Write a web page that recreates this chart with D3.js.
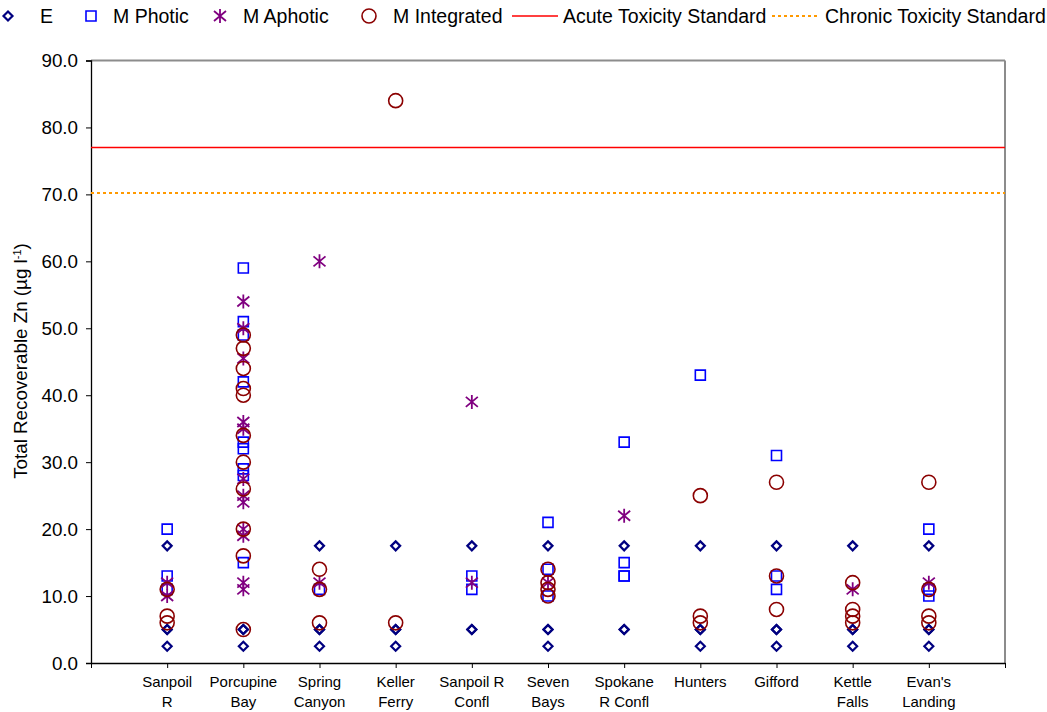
<!DOCTYPE html>
<html>
<head>
<meta charset="utf-8">
<script src="https://cdn.jsdelivr.net/npm/d3@7"></script>
<style>
  html, body { margin: 0; padding: 0; background: #fff; }
  svg { display: block; font-family: "Liberation Sans", Arial, sans-serif; }
</style>
</head>
<body>
<svg id="chart" width="1047" height="712"></svg>
<script>
// Sampling sites along the reservoir, two-line labels
const sites = [
  ["Sanpoil", "R"], ["Porcupine", "Bay"], ["Spring", "Canyon"], ["Keller", "Ferry"],
  ["Sanpoil R", "Confl"], ["Seven", "Bays"], ["Spokane", "R Confl"], ["Hunters", ""],
  ["Gifford", ""], ["Kettle", "Falls"], ["Evan's", "Landing"]
];

// Total recoverable zinc (µg/l) per site, one inner list per site
const eValues = [
  [17.5, 5, 5, 2.5], [5, 5, 2.5], [17.5, 5, 5, 2.5], [17.5, 5, 5, 2.5],
  [17.5, 5, 5], [17.5, 5, 5, 2.5], [17.5, 5, 5], [17.5, 5, 5, 2.5],
  [17.5, 5, 5, 2.5], [17.5, 5, 5, 2.5], [17.5, 5, 5, 2.5]
];
const photicValues = [
  [20, 13, 11], [59, 51, 49, 42, 33, 32, 29, 28, 15], [11], [],
  [13, 11], [21, 14, 10], [33, 15, 13, 13], [43],
  [31, 13, 11], [], [20, 11, 10]
];
const aphoticValues = [
  [12, 10], [54, 50, 45.5, 36, 35, 27.5, 25, 24, 20, 19, 12, 11], [60, 12], [],
  [39, 12], [12], [22], [],
  [], [11], [12]
];
const integratedValues = [
  [11, 7, 6], [49, 47, 44, 41, 40, 34, 30, 26, 20, 16, 5], [14, 11, 6], [84, 6],
  [], [14, 12, 11, 10], [], [25, 7, 6],
  [27, 13, 8], [12, 8, 7, 6], [27, 11, 7, 6]
];

// Water quality standards (µg/l)
const acuteStandard = 77.0;
const chronicStandard = 70.2;

const yTicks = [0, 10, 20, 30, 40, 50, 60, 70, 80, 90];

const svg = d3.select("#chart");
const plotLeft = 91, plotRight = 1005, plotTop = 60.5, plotBottom = 663;

const x = d3.scaleLinear().domain([0, sites.length + 1]).range([plotLeft, plotRight]);
const y = d3.scaleLinear().domain([0, 90]).range([plotBottom, plotTop]);

// Frame: grey top and right edges
svg.append("line").attr("x1", plotLeft).attr("x2", plotRight).attr("y1", plotTop).attr("y2", plotTop)
  .attr("stroke", "#8c8c8c").attr("stroke-width", 2);
svg.append("line").attr("x1", plotRight).attr("x2", plotRight).attr("y1", plotTop).attr("y2", plotBottom)
  .attr("stroke", "#8c8c8c").attr("stroke-width", 2);

// Y axis
const yAxis = svg.append("g").attr("transform", `translate(${plotLeft},0)`)
  .call(d3.axisLeft(y).tickValues(yTicks).tickFormat(d3.format(".1f")).tickSize(5).tickPadding(8));
yAxis.select(".domain").attr("stroke", "#000").attr("stroke-width", 1.3);
yAxis.selectAll(".tick line").attr("stroke", "#000");
yAxis.selectAll(".tick text").attr("font-size", 18.8).attr("fill", "#000")
  .attr("font-family", "Liberation Sans, Arial, sans-serif");

// X axis: ticks at every site position plus both ends
const xAxis = svg.append("g").attr("transform", `translate(0,${plotBottom})`)
  .call(d3.axisBottom(x).tickValues(d3.range(0, sites.length + 2)).tickFormat("").tickSize(5).tickSizeOuter(0));
xAxis.select(".domain").attr("stroke", "#000").attr("stroke-width", 1.3);
xAxis.selectAll(".tick line").attr("stroke", "#000");

const labels = svg.append("g").attr("font-size", 15).attr("text-anchor", "middle").attr("fill", "#000");
sites.forEach((s, i) => {
  const t = labels.append("text").attr("x", x(i + 1)).attr("y", 687);
  t.append("tspan").attr("x", x(i + 1)).text(s[0]);
  if (s[1]) t.append("tspan").attr("x", x(i + 1)).attr("dy", 20).text(s[1]);
});

// Y axis title with superscript exponent
const title = svg.append("text")
  .attr("transform", "translate(27,361) rotate(-90)")
  .attr("text-anchor", "middle").attr("font-size", 18.8).attr("fill", "#000");
title.append("tspan").text("Total Recoverable Zn (µg l");
title.append("tspan").attr("baseline-shift", "super").attr("font-size", 11).text("-1");
title.append("tspan").text(")");

// Standards
svg.append("line").attr("x1", plotLeft).attr("x2", plotRight)
  .attr("y1", y(acuteStandard)).attr("y2", y(acuteStandard))
  .attr("stroke", "#ff0000").attr("stroke-width", 1.5);
svg.append("line").attr("x1", plotLeft).attr("x2", plotRight)
  .attr("y1", y(chronicStandard)).attr("y2", y(chronicStandard))
  .attr("stroke", "#ff9900").attr("stroke-width", 2).attr("stroke-dasharray", "3,3");

// Marker shapes
const symbols = {
  diamond: "M0,-4.5L4.5,0L0,4.5L-4.5,0Z",
  square: "M-5,-5H5V5H-5Z",
  asterisk: "M0,-7V7M-6,-5L6,5M-6,5L6,-5"
};

const series = [
  { name: "E", data: eValues, shape: "diamond", color: "#000080", width: 2.2 },
  { name: "M Photic", data: photicValues, shape: "square", color: "#0000ff", width: 1.6 },
  { name: "M Aphotic", data: aphoticValues, shape: "asterisk", color: "#800080", width: 1.8 },
  { name: "M Integrated", data: integratedValues, shape: "circle", color: "#8b0000", width: 1.6 }
];

function drawMarker(g, shape, color, width) {
  if (shape === "circle") {
    g.append("circle").attr("r", 7).attr("fill", "none").attr("stroke", color).attr("stroke-width", width);
  } else {
    g.append("path").attr("d", symbols[shape]).attr("fill", "none")
      .attr("stroke", color).attr("stroke-width", width);
  }
}

series.forEach(sr => {
  const pts = [];
  sr.data.forEach((vals, i) => vals.forEach(v => pts.push({ site: i + 1, v })));
  const g = svg.append("g");
  g.selectAll("g").data(pts).join("g")
    .attr("transform", d => `translate(${x(d.site)},${y(d.v)})`)
    .each(function () { drawMarker(d3.select(this), sr.shape, sr.color, sr.width); });
});

// Legend
const legend = svg.append("g").attr("font-size", 19.5).attr("fill", "#000");
const legendY = 16;
const markerItems = [
  { sr: series[0], mx: 8, tx: 40 },
  { sr: series[1], mx: 91, tx: 113 },
  { sr: series[2], mx: 220, tx: 243 },
  { sr: series[3], mx: 369, tx: 393 }
];
markerItems.forEach(it => {
  const g = legend.append("g").attr("transform", `translate(${it.mx},${legendY})`);
  drawMarker(g, it.sr.shape, it.sr.color, it.sr.width);
  legend.append("text").attr("x", it.tx).attr("y", legendY + 7).text(it.sr.name);
});
legend.append("line").attr("x1", 512).attr("x2", 558).attr("y1", legendY).attr("y2", legendY)
  .attr("stroke", "#ff0000").attr("stroke-width", 1.5);
legend.append("text").attr("x", 563).attr("y", legendY + 7).text("Acute Toxicity Standard");
legend.append("line").attr("x1", 772).attr("x2", 818).attr("y1", legendY).attr("y2", legendY)
  .attr("stroke", "#ff9900").attr("stroke-width", 2).attr("stroke-dasharray", "3,3");
legend.append("text").attr("x", 825).attr("y", legendY + 7).text("Chronic Toxicity Standard");
</script>
</body>
</html>
